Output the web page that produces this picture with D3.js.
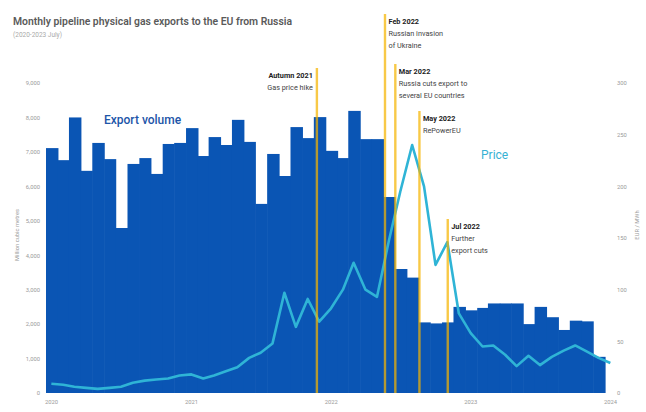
<!DOCTYPE html>
<html><head><meta charset="utf-8">
<script src="https://cdn.jsdelivr.net/npm/d3@7"></script>
<style>
html,body{margin:0;padding:0;background:#fff;}
svg{display:block;font-family:Roboto,"Noto Sans",sans-serif;}
</style></head>
<body><svg id="c" width="646" height="412"></svg>
<script>
// ---- data ----
const months = d3.range(48).map(i => new Date(2020, i, 1));
const exportVolume = [
  7110, 6760, 8000, 6450, 7260, 6790, 4790, 6650, 6820, 6360, 7230, 7260,
  7690, 6880, 7430, 7200, 7930, 7290, 5490, 6940, 6300, 7720, 7400, 8010,
  7030, 6820, 8190, 7370, 7370, 5690, 3600, 3350, 2050, 2020, 2050, 2500,
  2400, 2470, 2600, 2600, 2600, 2000, 2500, 2200, 1830, 2100, 2080, 1050
];
const priceDates = d3.range(49).map(i => new Date(2020, i, 15));
const price = [
  9, 8, 6, 5, 4, 5, 6, 10, 12, 13, 14, 17,
  18, 14, 17, 21, 25, 34, 39, 48, 97, 64, 91, 69,
  82, 100, 126, 100, 93, 147, 195, 240, 200, 124, 146, 77,
  58, 45, 46, 37, 26, 36, 27, 35, 41, 46, 40, 34,
  29
];
const leftTicks = [0, 1000, 2000, 3000, 4000, 5000, 6000, 7000, 8000, 9000];
const rightTicks = [0, 50, 100, 150, 200, 250, 300];
const yearTicks = [2020, 2021, 2022, 2023, 2024];
const eventDates = ["2021-12-09", "2022-06-05", "2022-07-02", "2022-09-03", "2022-11-16"];
const eventTitles = ["Autumn 2021", "Feb 2022", "Mar 2022", "May 2022", "Jul 2022"];
const eventTexts = [["Gas price hike"], ["Russian invasion", "of Ukraine"], ["Russia cuts export to", "several EU countries"], ["RePowerEU"], ["Further", "export cuts"]];
const eventTops = [68, 14, 64, 111, 219];
const eventSide = ["left", "right", "right", "right", "right"];

// ---- scales ----
const svg = d3.select("#c");
const x = d3.scaleTime().domain([new Date(2020, 0, 1), new Date(2024, 0, 1)]).range([46, 605]);
const y = d3.scaleLinear().domain([0, 9000]).range([393, 83]);
const y2 = d3.scaleLinear().domain([0, 300]).range([393, 83]);

// title
svg.append("text").attr("x", 13).attr("y", 25).attr("font-size", 10.4).attr("font-weight", 600)
  .attr("fill", "#5a5a5a").text("Monthly pipeline physical gas exports to the EU from Russia");
svg.append("text").attr("x", 13).attr("y", 37).attr("font-size", 6.5)
  .attr("fill", "#aaa").text("(2020-2023 July)");

// bars
svg.append("g").selectAll("rect").data(months).join("rect")
  .attr("x", d => x(d))
  .attr("width", (d, i) => x(new Date(2020, i + 1, 1)) - x(d) + 0.6)
  .attr("y", (d, i) => y(exportVolume[i]))
  .attr("height", (d, i) => y(0) - y(exportVolume[i]))
  .attr("fill", "#0a55b4");

// price line
svg.append("path").datum(price)
  .attr("fill", "none").attr("stroke", "#2fb4d6").attr("stroke-width", 2.6)
  .attr("stroke-linejoin", "round")
  .attr("d", d3.line().x((d, i) => x(priceDates[i])).y(d => y2(d)));

// events
const ev = svg.append("g");
eventDates.forEach((ds, k) => {
  const xx = x(new Date(ds));
  ev.append("line").attr("x1", xx).attr("x2", xx).attr("y1", eventTops[k]).attr("y2", 393)
    .attr("stroke", "#f5b400").attr("stroke-width", 2.4).attr("stroke-opacity", 0.72);
  const right = eventSide[k] === "right";
  const tx = right ? xx + 3.5 : xx - 4;
  const anchor = right ? "start" : "end";
  ev.append("text").attr("x", tx).attr("y", eventTops[k] + 10).attr("font-size", 7.3)
    .attr("font-weight", 700).attr("fill", "#222").attr("text-anchor", anchor).text(eventTitles[k]);
  eventTexts[k].forEach((t, j) => {
    ev.append("text").attr("x", tx).attr("y", eventTops[k] + 22 + j * 12).attr("font-size", 7.3)
      .attr("fill", "#444").attr("text-anchor", anchor).text(t);
  });
});

// series labels
svg.append("text").attr("x", 104).attr("y", 124).attr("font-size", 12).attr("font-weight", 500)
  .attr("fill", "#1d55a8").text("Export volume");
svg.append("text").attr("x", 481).attr("y", 159).attr("font-size", 12)
  .attr("fill", "#36b2d4").text("Price");

// left axis
const la = svg.append("g").attr("transform", "translate(40,0)")
  .call(d3.axisLeft(y).tickValues(leftTicks).tickSize(0).tickPadding(0).tickFormat(d3.format(",")));
la.select(".domain").remove();
la.selectAll("text").attr("font-size", 5.8).attr("fill", "#9a9a9a").attr("font-family", "Roboto,sans-serif");

// right axis
const ra = svg.append("g").attr("transform", "translate(617,0)")
  .call(d3.axisRight(y2).tickValues(rightTicks).tickSize(0).tickPadding(0));
ra.select(".domain").remove();
ra.selectAll("text").attr("font-size", 5.8).attr("fill", "#9a9a9a").attr("font-family", "Roboto,sans-serif");

// x axis
const xa = svg.append("g").attr("transform", "translate(0,400)")
  .call(d3.axisBottom(x).tickValues(yearTicks.map(yv => new Date(yv, 0, 1))).tickSize(0).tickPadding(0)
    .tickFormat(d3.timeFormat("%Y")));
xa.select(".domain").remove();
xa.selectAll("text").attr("font-size", 5.8).attr("fill", "#9a9a9a").attr("dx", 5).attr("font-family", "Roboto,sans-serif");

// axis titles
svg.append("text").attr("transform", "translate(19,235) rotate(-90)").attr("text-anchor", "middle")
  .attr("font-size", 5.8).attr("fill", "#9a9a9a").text("Million cubic metres");
svg.append("text").attr("transform", "translate(639,225) rotate(-90)").attr("text-anchor", "middle")
  .attr("font-size", 5.8).attr("fill", "#9a9a9a").text("EUR / MWh");
</script></body></html>
